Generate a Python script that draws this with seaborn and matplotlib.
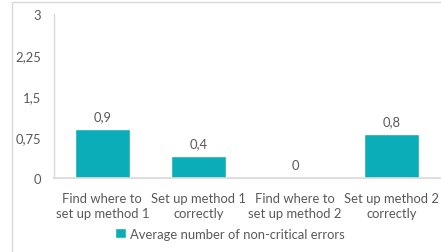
import numpy as np
import pandas as pd
import matplotlib
matplotlib.use("Agg")
import matplotlib.pyplot as plt
import seaborn as sns
from matplotlib.patches import Rectangle, Patch

categories = ["Find where to\nset up method 1", "Set up method 1\ncorrectly",
              "Find where to\nset up method 2", "Set up method 2\ncorrectly"]
values = [0.9, 0.4, 0.0, 0.8]
value_labels = ["0,9", "0,4", "0", "0,8"]
yticks = [0, 0.75, 1.5, 2.25, 3]
ytick_labels = ["0", "0,75", "1,5", "2,25", "3"]
series_name = "Average number of non-critical errors"

bar_color = "#0AADB8"
text_color = "#595959"
grid_color = "#D9D9D9"
fs = 9.4

sns.set_style("white")
plt.rcParams['font.family'] = ['Lato', 'DejaVu Sans']

df = pd.DataFrame({"task": categories, "errors": values})

fig = plt.figure(figsize=(4.41, 2.53), dpi=100)
ax = fig.add_axes([54/441, 1 - 179/253, 386/441, 164/253])

sns.barplot(data=df, x="task", y="errors", color=bar_color, width=0.57,
            saturation=1, ax=ax)

ax.set_ylim(0, 3)
ax.set_xlim(-0.5, 3.5)
ax.set_yticks(yticks)
ax.set_yticklabels(ytick_labels)
ax.set_xlabel("")
ax.set_ylabel("")
ax.tick_params(axis="both", length=0, colors=text_color, labelsize=fs)
ax.tick_params(axis="y", pad=9)
ax.tick_params(axis="x", pad=10)
for lab in ax.get_xticklabels():
    lab.set_multialignment("center")
    lab.set_linespacing(1.3)

for s in ["top", "right"]:
    ax.spines[s].set_visible(False)
ax.spines["left"].set_color(grid_color)
ax.spines["bottom"].set_color(grid_color)
ax.spines["left"].set_linewidth(1)
ax.spines["bottom"].set_linewidth(1.2)

for i, (v, lab) in enumerate(zip(values, value_labels)):
    ax.annotate(lab, (i, v), xytext=(0, 5), textcoords="offset points",
                ha="center", va="bottom", color=text_color, fontsize=fs)

# outer chart border
fig.patches.append(Rectangle((12/441, -0.1), 1.2, 1 - 3/253 + 0.1,
                             transform=fig.transFigure, fill=False,
                             edgecolor=grid_color, linewidth=1))

fig.legend(handles=[Patch(facecolor=bar_color, label=series_name)],
           loc="center", bbox_to_anchor=(230/441, 1 - 235/253), frameon=False,
           fontsize=fs, labelcolor=text_color, handlelength=0.8, handleheight=0.8,
           handletextpad=0.3, borderpad=0)

fig.savefig("out.png", dpi=100)
